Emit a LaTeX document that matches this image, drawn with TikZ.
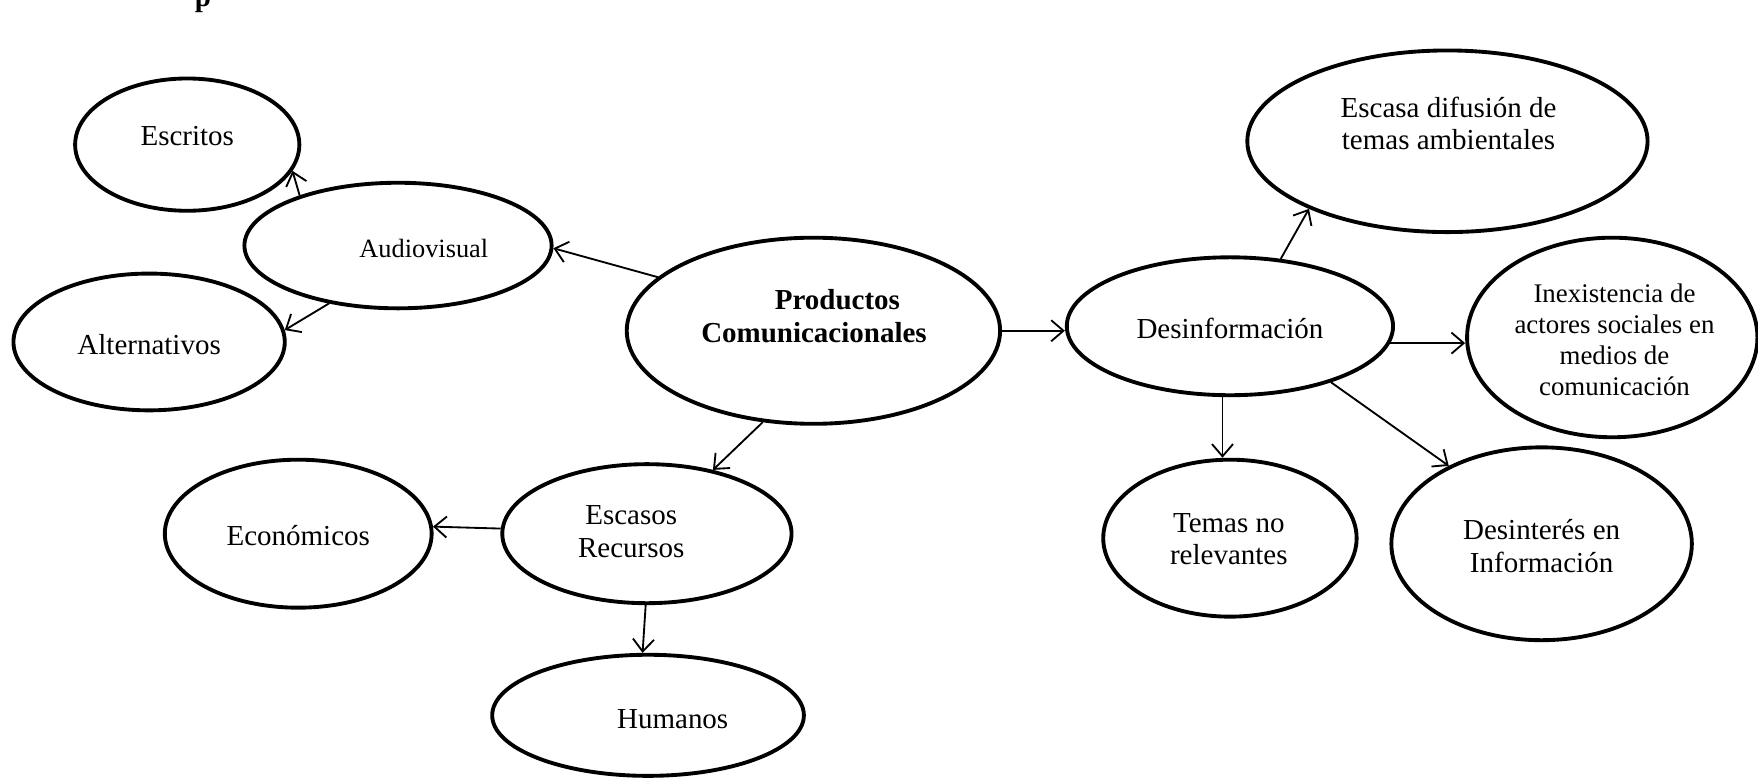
\documentclass[tikz,border=0pt]{standalone}
\usepackage{fontspec}
\setmainfont{Liberation Serif}
\usetikzlibrary{shapes.geometric, arrows.meta}
\newcommand{\PXU}{0.022424cm}
\begin{document}
\begin{tikzpicture}[x=0.022424cm, y=-0.022424cm,
  el/.style 2 args={draw, ellipse, line width=2.2pt, inner sep=0pt,
    minimum width=#1*\PXU, minimum height=#2*\PXU},
  lab/.style={font=\fontsize{16.5}{18.5}\selectfont, align=center, inner sep=0pt},
  con/.style={line width=1.05pt, -{Straight Barb[length=7pt,width=12pt,line width=1.05pt]}}]
\useasboundingbox (0,0) rectangle (1568,695);

\begin{scope}
  \clip (0,0) rectangle (1568,695);
  \node[font=\bfseries\fontsize{16.5}{18}\selectfont, anchor=base, inner sep=0pt] (titlefrag) at (181,6) {p};
\end{scope}

\node[el={200}{118}, label={[lab, yshift=8*\PXU]center:Escritos}] (escritos) at (167,129) {};
\node[el={274}{112}, label={[lab, font=\fontsize{15}{17}\selectfont, xshift=23*\PXU, yshift=-3*\PXU]center:Audiovisual}] (audio) at (355,219) {};
\node[el={242}{122}, label={[lab, yshift=-2*\PXU]center:Alternativos}] (altern) at (133,305) {};
\node[el={333}{166}, label={[lab, font=\bfseries\fontsize{16.5}{19}\selectfont, xshift=0.5*\PXU, yshift=13*\PXU]center:{\hspace*{0.94cm}Productos\\Comunicacionales}}] (prod) at (725.5,295) {};
\node[el={291}{123}, label={[lab, yshift=-1.5*\PXU]center:Desinformación}] (desinf) at (1097,291) {};
\node[el={357}{162}, label={[lab, xshift=1*\PXU, yshift=16*\PXU]center:{Escasa difusión de\\temas ambientales}}] (escasa) at (1291,126) {};
\node[el={259}{178}, label={[lab, font=\fontsize{15.3}{17.8}\selectfont, xshift=2*\PXU, yshift=-2*\PXU]center:{Inexistencia de\\actores sociales en\\medios de\\comunicación}}] (inex) at (1438,301) {};
\node[el={226}{140}, label={[lab, xshift=-1*\PXU, yshift=-1*\PXU]center:{Temas no\\relevantes}}] (temas) at (1097,480) {};
\node[el={268}{172}, label={[lab, yshift=-2*\PXU]center:{Desinterés en\\Información}}] (desint) at (1375,485) {};
\node[el={258}{124}, label={[lab, xshift=-14*\PXU, yshift=2*\PXU]center:{Escasos\\Recursos}}] (recursos) at (577,476) {};
\node[el={238}{132}, label={[lab, yshift=-2*\PXU]center:Económicos}] (econ) at (266,476) {};
\node[el={278}{108}, label={[lab, xshift=22*\PXU, yshift=-3*\PXU]center:Humanos}] (humanos) at (578,638) {};

\draw[con] (audio.153.7) -- (escritos.-14.8);
\draw[con] (audio.-140.8) -- (altern.5);
\draw[con] (prod.161) -- (audio.-1);
\draw[con] (prod.east) -- (prod.east -| desinf.west);
\draw[con] (prod.-119.3) -- (recursos.44.5);
\draw[con] (recursos.178) -- (econ.3);
\draw[con] (recursos.-91) -- (humanos.95.4);
\draw[con] (desinf.53) -- (escasa.-154.4);
\draw[con] (desinf.-6.5) -- (desinf.-6.5 -| inex.west);
\draw[con] (desinf.-96.5) -- (desinf.-96.5 |- temas.north);
\draw[con] (desinf.-29.2) -- (desint.140);
\end{tikzpicture}
\end{document}
